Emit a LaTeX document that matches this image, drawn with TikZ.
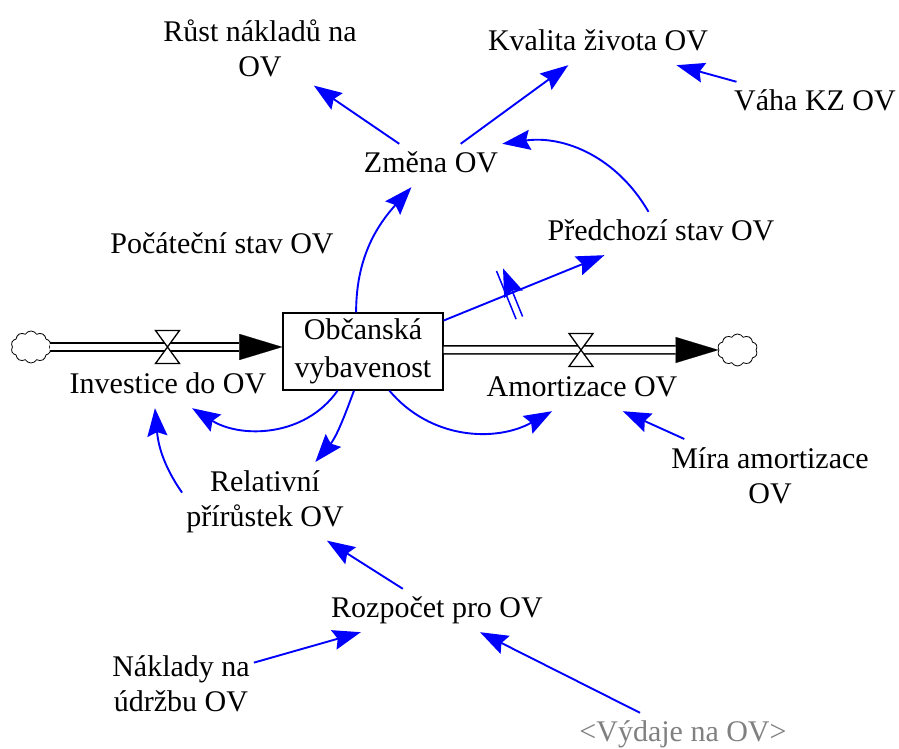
\documentclass[tikz,border=0pt]{standalone}
\usepackage{fontspec}
\setmainfont{Liberation Serif}
\usepackage{tikz}
\usetikzlibrary{arrows.meta,shapes.symbols,decorations.markings}
\tikzstyle{var}=[inner xsep=4pt,inner ysep=8pt,align=center,font=\fontsize{30}{35}\selectfont]
\tikzstyle{one line}=[var,anchor=base,text height=21pt,text depth=6pt]
\tikzstyle{two lines}=[var,anchor=north]
\tikzstyle{level box}=[draw,line width=1.2pt,minimum width=160pt,minimum height=77pt,inner sep=0pt,align=center,font=\fontsize{30}{38}\selectfont]
\tikzstyle{sink}=[cloud,cloud puffs=10,cloud puff arc=120,aspect=1.25,draw,line width=0.8pt,minimum width=40pt,minimum height=32pt,inner sep=0pt]
\tikzstyle{pipe}=[draw,line width=1.5pt,double,double distance=6.5pt,shorten >=43pt]
\tikzstyle{flow tip}=[draw,line width=0.1pt,-{Triangle[length=43pt,width=26pt]}]
\tikzstyle{valve}=[draw,fill=white,line width=1.3pt]
\tikzstyle{link}=[draw,blue,line width=1.9pt,-{Stealth[length=28pt,width=20pt,inset=4pt]}]
\tikzstyle{delay}=[postaction={decorate},decoration={markings,mark=at position 0.41 with {\draw[blue,line width=1.5pt] (-3.5pt,-26pt) -- (-3.5pt,26pt) (3.5pt,-26pt) -- (3.5pt,26pt);}}]

\begin{document}
\begin{tikzpicture}[x=1pt,y=1pt]
        \useasboundingbox (0,0) rectangle (899,749);
        % stock and flows
        \node[level box] (stock) at (363,397.5) {Občanská\\vybavenost};
        \node[sink] (cloudI) at (31,402) {};
        \node[sink] (cloudO) at (737.5,399) {};
        \coordinate (vI) at (167.5,402);
        \coordinate (vO) at (581,399);
        \draw[flow tip] (cloudI.east) -- (cloudI.east -| stock.west);
        \draw[pipe] (cloudI.east) -- (cloudI.east -| stock.west);
        \draw[flow tip] (stock.east |- cloudO) -- (cloudO.west);
        \draw[pipe] (stock.east |- cloudO) -- (cloudO.west);
        \draw[valve] ([shift={(-12pt,16.5pt)}]vI) -- ([shift={(12pt,16.5pt)}]vI) -- ([shift={(-12pt,-16.5pt)}]vI) -- ([shift={(12pt,-16.5pt)}]vI) -- cycle;
        \draw[valve] ([shift={(-12pt,16.5pt)}]vO) -- ([shift={(12pt,16.5pt)}]vO) -- ([shift={(-12pt,-16.5pt)}]vO) -- ([shift={(12pt,-16.5pt)}]vO) -- cycle;
        % variables
        \node[one line] (investice) at (168,355) {Investice do OV};
        \node[one line] (amortizace) at (582,352) {Amortizace OV};
        \node[one line] (zmena) at (431,576) {Změna OV};
        \node[one line] (kvalita) at (598,698) {Kvalita života OV};
        \node[one line] (vaha) at (815,638) {Váha KZ OV};
        \node[one line] (pocatecni) at (222,495) {Počáteční stav OV};
        \node[one line] (predchozi) at (661,508) {Předchozí stav OV};
        \node[one line] (rozpocet) at (437,131) {Rozpočet pro OV};
        \node[one line,text=black!50] (vydaje) at (683,7) {<Výdaje na OV>};
        \node[two lines] (rust) at (260,737) {Růst nákladů na\\OV};
        \node[two lines] (mira) at (770,310) {Míra amortizace\\OV};
        \node[two lines] (relativni) at (265,287) {Relativní\\přírůstek OV};
        \node[two lines] (naklady) at (181,102) {Náklady na\\údržbu OV};
        % links
        \draw[link] (zmena) to (rust);
        \draw[link] (zmena) to (kvalita);
        \draw[link] (vaha) to (kvalita);
        \draw[link] (predchozi) to[out=120,in=8] (zmena.north east);
        \draw[link] (stock.100) to[out=90,in=228] (zmena);
        \draw[link,delay] (stock.21) to (predchozi.201);
        \draw[link] (stock.237) to[out=235,in=328] (investice.318);
        \draw[link] (stock.257) to[out=250,in=50] (relativni.38);
        \draw[link] (relativni.174) to[out=125,in=275] (investice.239);
        \draw[link] (stock.304) to[out=310,in=209] (amortizace.216);
        \draw[link] (mira.157) to (amortizace.332);
        \draw[link] (rozpocet) to (relativni);
        \draw[link] (naklady) to (rozpocet);
        \draw[link] (vydaje) to (rozpocet);
\end{tikzpicture}
\end{document}
